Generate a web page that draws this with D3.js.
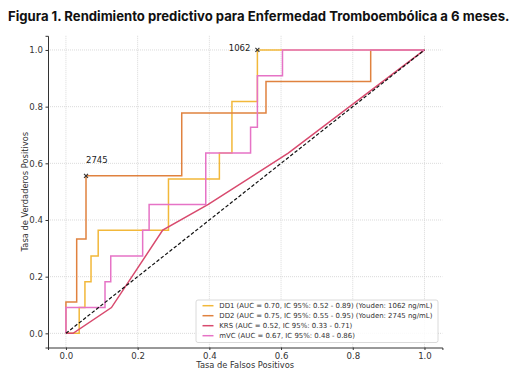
<!DOCTYPE html>
<html>
<head>
<meta charset="utf-8">
<script src="https://cdn.jsdelivr.net/npm/d3@7"></script>
<style>
  body { margin: 0; background: #fff; }
  svg { display: block; }
  .tick text { font-family: "DejaVu Sans", sans-serif; fill: #333; }
</style>
</head>
<body>
<div id="chart"></div>
<script>
// ROC curve corner points
const dd1Fpr = [0, 0.037, 0.037, 0.053, 0.053, 0.07, 0.07, 0.09, 0.09, 0.286, 0.286, 0.428, 0.428, 0.463, 0.463, 0.534, 0.534, 1];
const dd1Tpr = [0, 0, 0.091, 0.091, 0.182, 0.182, 0.273, 0.273, 0.364, 0.364, 0.545, 0.545, 0.636, 0.636, 0.818, 0.818, 1, 1];

const dd2Fpr = [0, 0, 0.03, 0.03, 0.056, 0.056, 0.323, 0.323, 0.558, 0.558, 0.85, 0.85, 1];
const dd2Tpr = [0, 0.111, 0.111, 0.333, 0.333, 0.556, 0.556, 0.778, 0.778, 0.889, 0.889, 1, 1];

const krsFpr = [0, 0.02, 0.127, 0.27, 0.397, 0.62, 1];
const krsTpr = [0, 0, 0.091, 0.364, 0.455, 0.636, 1];

const mvcFpr = [0, 0, 0.109, 0.109, 0.125, 0.125, 0.214, 0.214, 0.232, 0.232, 0.39, 0.39, 0.515, 0.515, 0.534, 0.534, 0.604, 0.604, 1];
const mvcTpr = [0, 0.091, 0.091, 0.182, 0.182, 0.273, 0.273, 0.364, 0.364, 0.455, 0.455, 0.636, 0.636, 0.727, 0.727, 0.909, 0.909, 1, 1];

const seriesNames = ['DD1', 'DD2', 'KRS', 'mVC'];
const seriesColors = ['#f2b83a', '#e0823f', '#d84a6e', '#e673c6'];
const legendLabels = [
  'DD1 (AUC = 0.70, IC 95%: 0.52 - 0.89) (Youden: 1062 ng/mL)',
  'DD2 (AUC = 0.75, IC 95%: 0.55 - 0.95) (Youden: 2745 ng/mL)',
  'KRS (AUC = 0.52, IC 95%: 0.33 - 0.71)',
  'mVC (AUC = 0.67, IC 95%: 0.48 - 0.86)'
];

// Youden points
const youdenFpr = [0.534, 0.056];
const youdenTpr = [1.0, 0.556];
const youdenLabels = ['1062', '2745'];

const ticks = [0, 0.2, 0.4, 0.6, 0.8, 1.0];

const width = 517, height = 380;
const margin = { top: 35.8, right: 74.6, bottom: 32.5, left: 48 };
const innerW = width - margin.left - margin.right;
const innerH = height - margin.top - margin.bottom;

const svg = d3.select('#chart').append('svg')
  .attr('width', width)
  .attr('height', height);

// Title
const title = svg.append('text')
  .attr('x', 8)
  .attr('y', 21)
  .style('font-family', 'Inter, "Liberation Sans", sans-serif')
  .style('font-weight', 700)
  .style('font-size', '14px')
  .attr('fill', '#111')
  .text('Figura 1. Rendimiento predictivo para Enfermedad Tromboembólica a 6 meses.');
// fit the title to the width seen in the picture
const tw = title.node().getComputedTextLength();
title.style('font-size', (14 * 502 / tw) + 'px');

const g = svg.append('g')
  .attr('transform', `translate(${margin.left},${margin.top})`);

const x = d3.scaleLinear().domain([-0.05, 1.05]).range([0, innerW]);
const y = d3.scaleLinear().domain([-0.05, 1.05]).range([innerH, 0]);

// Grid
g.append('g').selectAll('line').data(ticks).join('line')
  .attr('x1', d => x(d)).attr('x2', d => x(d))
  .attr('y1', 0).attr('y2', innerH)
  .attr('stroke', '#d6d6d6').attr('stroke-width', 0.9).attr('stroke-dasharray', '1,1');
g.append('g').selectAll('line').data(ticks).join('line')
  .attr('y1', d => y(d)).attr('y2', d => y(d))
  .attr('x1', 0).attr('x2', innerW)
  .attr('stroke', '#d6d6d6').attr('stroke-width', 0.9).attr('stroke-dasharray', '1,1');

// Curves
const line = d3.line().x(d => x(d[0])).y(d => y(d[1]));
const curves = [
  d3.zip(dd1Fpr, dd1Tpr),
  d3.zip(dd2Fpr, dd2Tpr),
  d3.zip(krsFpr, krsTpr),
  d3.zip(mvcFpr, mvcTpr)
];
curves.forEach((pts, i) => {
  g.append('path')
    .datum(pts)
    .attr('d', line)
    .attr('fill', 'none')
    .attr('stroke', seriesColors[i])
    .attr('stroke-width', 1.5)
    .attr('stroke-linejoin', 'miter');
});

// Chance diagonal
g.append('path')
  .datum([[0, 0], [1, 1]])
  .attr('d', line)
  .attr('fill', 'none')
  .attr('stroke', '#111')
  .attr('stroke-width', 1.2)
  .attr('stroke-dasharray', '3.5,2');

// Youden markers
youdenFpr.forEach((fx, i) => {
  const px = x(fx), py = y(youdenTpr[i]);
  g.append('path')
    .attr('d', `M${px - 2},${py - 2}L${px + 2},${py + 2}M${px - 2},${py + 2}L${px + 2},${py - 2}`)
    .attr('stroke', '#333').attr('stroke-width', 1.1);
});
g.append('text')
  .attr('x', x(youdenFpr[0]) - 7)
  .attr('y', y(youdenTpr[0]) + 1)
  .attr('text-anchor', 'end')
  .style('font-family', '"DejaVu Sans", sans-serif')
  .style('font-size', '8.5px')
  .attr('fill', '#222')
  .text(youdenLabels[0]);
g.append('text')
  .attr('x', x(youdenFpr[1]))
  .attr('y', y(youdenTpr[1]) - 13)
  .style('font-family', '"DejaVu Sans", sans-serif')
  .style('font-size', '8.5px')
  .attr('fill', '#222')
  .text(youdenLabels[1]);

// Axes (left and bottom spines only)
const xAxis = g.append('g')
  .attr('transform', `translate(0,${innerH})`)
  .call(d3.axisBottom(x).tickValues(ticks).tickFormat(d3.format('.1f')).tickSize(2.5).tickPadding(2.5));
const yAxis = g.append('g')
  .call(d3.axisLeft(y).tickValues(ticks).tickFormat(d3.format('.1f')).tickSize(2.5).tickPadding(2.5));
[xAxis, yAxis].forEach(a => {
  a.select('.domain').attr('stroke', '#333').attr('stroke-width', 1);
  a.selectAll('.tick line').attr('stroke', '#333');
  a.selectAll('.tick text').style('font-size', '8.6px');
});

// Axis labels
g.append('text')
  .attr('x', innerW / 2)
  .attr('y', innerH + 20.5)
  .attr('text-anchor', 'middle')
  .style('font-family', '"DejaVu Sans", sans-serif')
  .style('font-size', '8.3px')
  .attr('fill', '#333')
  .text('Tasa de Falsos Positivos');
g.append('text')
  .attr('transform', 'rotate(-90)')
  .attr('x', -innerH / 2)
  .attr('y', -20.5)
  .attr('text-anchor', 'middle')
  .style('font-family', '"DejaVu Sans", sans-serif')
  .style('font-size', '8.3px')
  .attr('fill', '#333')
  .text('Tasa de Verdaderos Positivos');

// Legend
const lgX = 196 - margin.left, lgY = 300 - margin.top;
const lgW = 242, lgH = 42.5;
const legend = g.append('g').attr('transform', `translate(${lgX},${lgY})`);
legend.append('rect')
  .attr('width', lgW).attr('height', lgH)
  .attr('rx', 2)
  .attr('fill', 'rgba(255,255,255,0.85)')
  .attr('stroke', '#d0d0d0').attr('stroke-width', 0.8);
const items = legend.selectAll('.item').data(seriesNames).join('g')
  .attr('class', 'item')
  .attr('transform', (d, i) => `translate(0,${5.7 + i * 10})`);
items.append('line')
  .attr('x1', 6.5).attr('x2', 17.5)
  .attr('stroke', (d, i) => seriesColors[i])
  .attr('stroke-width', 1.5);
items.append('text')
  .attr('x', 23.3)
  .attr('y', 2.4)
  .style('font-family', '"DejaVu Sans", sans-serif')
  .style('font-size', '6.95px')
  .attr('fill', '#333')
  .text((d, i) => legendLabels[i]);
</script>
</body>
</html>
